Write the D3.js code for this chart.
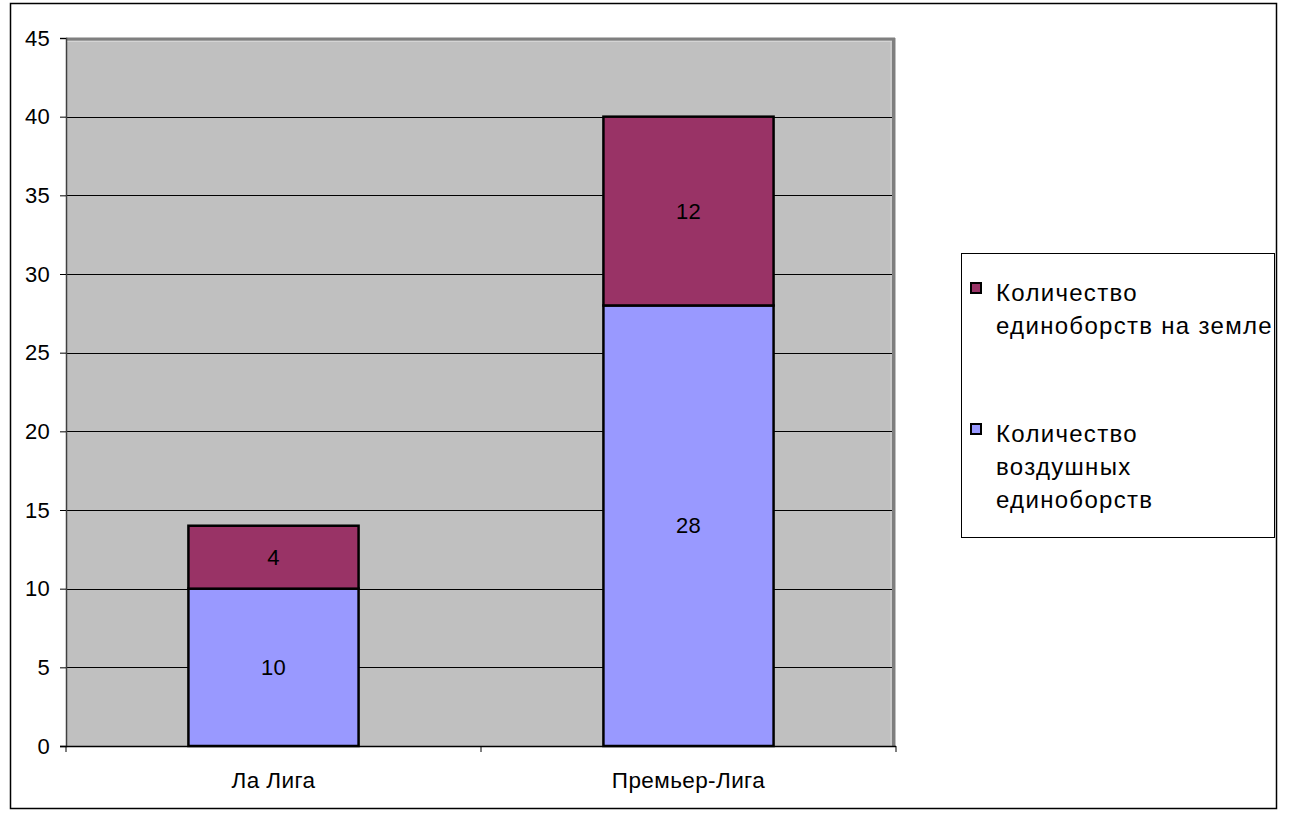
<!DOCTYPE html>
<html>
<head>
<meta charset="utf-8">
<script src="https://cdn.jsdelivr.net/npm/d3@7"></script>
<style>
  html, body { margin: 0; padding: 0; background: #fff; }
  svg { display: block; font-family: "Liberation Sans", Arial, sans-serif; }
</style>
</head>
<body>
<svg id="chart" width="1302" height="827"></svg>
<script>
// Leagues and duel counts
const categories = ["Ла Лига", "Премьер-Лига"];
const airDuels = [10, 28];
const groundDuels = [4, 12];
const yTicks = [0, 5, 10, 15, 20, 25, 30, 35, 40, 45];
const seriesKeys = ["air", "ground"];
const seriesColors = { air: "#9999FF", ground: "#993366" };
const legendItems = [
  { key: "ground", lines: ["Количество", "единоборств на земле"] },
  { key: "air", lines: ["Количество", "воздушных", "единоборств"] }
];

const rows = categories.map((c, i) => ({ cat: c, air: airDuels[i], ground: groundDuels[i] }));

const svg = d3.select("#chart");
const plot = { left: 66, top: 38, right: 896, bottom: 746 };
const FONT = "Liberation Sans, Arial, sans-serif";

// outer chart frame
svg.append("rect")
  .attr("x", 10.5).attr("y", 3.5).attr("width", 1266).attr("height", 805)
  .attr("fill", "#fff").attr("stroke", "#000").attr("stroke-width", 1.5);

const x = d3.scaleBand().domain(categories)
  .range([plot.left, plot.right]).paddingInner(0.59).paddingOuter(0.295);
const y = d3.scaleLinear().domain([0, 45]).range([plot.bottom, plot.top]);

// plot area background
svg.append("rect")
  .attr("x", plot.left).attr("y", plot.top)
  .attr("width", plot.right - plot.left).attr("height", plot.bottom - plot.top)
  .attr("fill", "#C0C0C0");

// plot area border: dark top/right edge with a light inner line
svg.append("line").attr("x1", plot.left).attr("x2", plot.right - 1)
  .attr("y1", plot.top + 1).attr("y2", plot.top + 1)
  .attr("stroke", "#7f7f7f").attr("stroke-width", 3);
svg.append("line").attr("x1", plot.right - 2.5).attr("x2", plot.right - 2.5)
  .attr("y1", plot.top).attr("y2", plot.bottom)
  .attr("stroke", "#7f7f7f").attr("stroke-width", 3);
svg.append("line").attr("x1", plot.left).attr("x2", plot.right - 4)
  .attr("y1", plot.top + 3.5).attr("y2", plot.top + 3.5)
  .attr("stroke", "#d4d4d4").attr("stroke-width", 1);
svg.append("line").attr("x1", plot.right - 5).attr("x2", plot.right - 5)
  .attr("y1", plot.top + 3).attr("y2", plot.bottom)
  .attr("stroke", "#d4d4d4").attr("stroke-width", 1);

// horizontal gridlines
svg.append("g").selectAll("line")
  .data(yTicks.filter(t => t > 0 && t < 45))
  .join("line")
  .attr("x1", plot.left).attr("x2", plot.right - 4)
  .attr("y1", d => Math.round(y(d)) + 0.5).attr("y2", d => Math.round(y(d)) + 0.5)
  .attr("stroke", "#000").attr("stroke-width", 1);

// stacked bars
const stacked = d3.stack().keys(seriesKeys)(rows);
const barG = svg.append("g");
stacked.forEach(layer => {
  barG.selectAll(null).data(layer).join("rect")
    .attr("x", d => x(d.data.cat))
    .attr("y", d => y(d[1]))
    .attr("width", x.bandwidth())
    .attr("height", d => y(d[0]) - y(d[1]))
    .attr("fill", seriesColors[layer.key])
    .attr("stroke", "#000").attr("stroke-width", 2.5);
});

// value labels in the middle of each segment
stacked.forEach(layer => {
  barG.selectAll(null).data(layer).join("text")
    .attr("x", d => x(d.data.cat) + x.bandwidth() / 2)
    .attr("y", d => y((d[0] + d[1]) / 2))
    .attr("text-anchor", "middle").attr("dominant-baseline", "central")
    .attr("font-size", 22).attr("letter-spacing", 0.3).attr("fill", "#000")
    .text(d => d[1] - d[0]);
});

// y axis
const yAxis = d3.axisLeft(y).tickValues(yTicks).tickSize(6).tickPadding(10);
const yg = svg.append("g").attr("transform", `translate(${plot.left},0)`).call(yAxis);
yg.select(".domain").attr("stroke", "#404040").attr("stroke-width", 1.5);
yg.selectAll(".tick line").attr("stroke", "#000");
yg.selectAll(".tick text").attr("font-size", 22).attr("letter-spacing", 0.3).attr("fill", "#000")
  .attr("font-family", FONT);

// x axis line with category boundary ticks
const step = x.step();
const gap = step - x.bandwidth();
const bounds = categories.map(c => x(c) - gap / 2).concat([x(categories[categories.length - 1]) + x.bandwidth() + gap / 2]);
svg.append("line").attr("x1", plot.left - 6).attr("x2", plot.right)
  .attr("y1", plot.bottom + 0.5).attr("y2", plot.bottom + 0.5)
  .attr("stroke", "#000").attr("stroke-width", 1.5);
svg.append("g").selectAll("line").data(bounds).join("line")
  .attr("x1", d => d).attr("x2", d => d)
  .attr("y1", plot.bottom).attr("y2", plot.bottom + 6)
  .attr("stroke", "#000").attr("stroke-width", 1);
svg.append("g").selectAll("text").data(categories).join("text")
  .attr("x", d => x(d) + x.bandwidth() / 2)
  .attr("y", 788)
  .attr("text-anchor", "middle")
  .attr("font-size", 22.5).attr("letter-spacing", 0.4).attr("fill", "#000")
  .text(d => d);

// legend
const lg = svg.append("g");
const box = { x: 961.5, y: 253.5, w: 313, h: 284 };
svg.append("defs").append("clipPath").attr("id", "legendClip")
  .append("rect").attr("x", box.x).attr("y", box.y).attr("width", box.w).attr("height", box.h);
lg.append("rect").attr("x", box.x).attr("y", box.y).attr("width", box.w).attr("height", box.h)
  .attr("fill", "#fff").attr("stroke", "#000").attr("stroke-width", 1);
const legendTop = [301, 442];
const lgText = lg.append("g").attr("clip-path", "url(#legendClip)");
legendItems.forEach((item, i) => {
  lg.append("rect").attr("x", 971).attr("y", legendTop[i] - 18).attr("width", 10).attr("height", 10)
    .attr("fill", seriesColors[item.key]).attr("stroke", "#000").attr("stroke-width", 2);
  item.lines.forEach((ln, j) => {
    lgText.append("text").attr("x", 996).attr("y", legendTop[i] + j * 33)
      .attr("font-size", 24).attr("letter-spacing", 1.3).attr("fill", "#000").text(ln);
  });
});
</script>
</body>
</html>
